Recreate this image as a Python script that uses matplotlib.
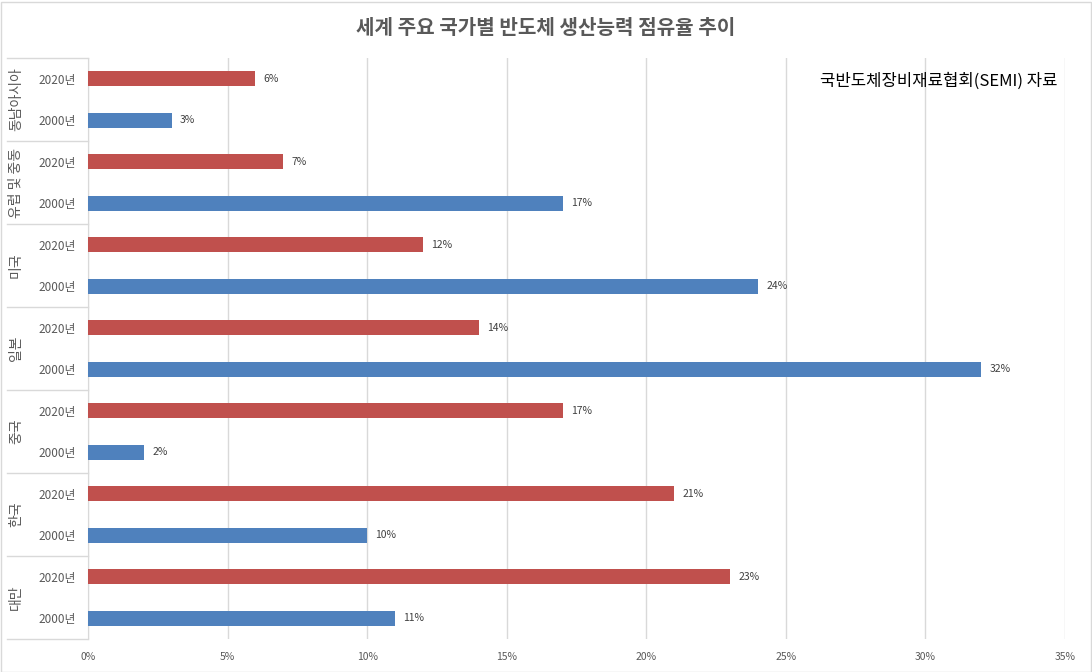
import matplotlib.pyplot as plt
import matplotlib.transforms as mtransforms
from matplotlib.patches import Rectangle

plt.rcParams['font.family'] = ['Noto Sans CJK KR', 'DejaVu Sans']

# 아래에서 위 순서
countries = ['대만', '한국', '중국', '일본', '미국', '유럽 및 중동', '동남아시아']
share_2000 = [11, 10, 2, 32, 24, 17, 3]
share_2020 = [23, 21, 17, 14, 12, 7, 6]
years = ['2000년', '2020년']
x_ticks = [0, 5, 10, 15, 20, 25, 30, 35]

blue = '#4F81BD'
red = '#C0504D'
gray_txt = '#595959'
grid_col = '#D9D9D9'

fig = plt.figure(figsize=(10.92, 6.72), dpi=100)
W, H = 1092, 672
ax = fig.add_axes([88 / W, (H - 639) / H, (1065 - 88) / W, (639 - 58) / H])

y2000 = [2 * i for i in range(len(countries))]
y2020 = [2 * i + 1 for i in range(len(countries))]
ax.barh(y2000, share_2000, height=0.36, color=blue, zorder=3)
ax.barh(y2020, share_2020, height=0.36, color=red, zorder=3)

for y, v in zip(y2000, share_2000):
    ax.text(v + 0.3, y, f'{v}%', va='center', ha='left', fontsize=7.5, color='#404040')
for y, v in zip(y2020, share_2020):
    ax.text(v + 0.3, y, f'{v}%', va='center', ha='left', fontsize=7.5, color='#404040')

ax.set_xlim(0, 35)
ax.set_ylim(-0.5, 2 * len(countries) - 0.5)
ax.set_xticks(x_ticks)
ax.set_xticklabels([f'{t}%' for t in x_ticks], fontsize=7.5, color=gray_txt)
ytk = sorted(y2000 + y2020)
ax.set_yticks(ytk)
ax.set_yticklabels([years[t % 2] for t in ytk], fontsize=8.5, color=gray_txt)
ax.tick_params(axis='both', length=0)
ax.tick_params(axis='y', pad=9)
ax.tick_params(axis='x', pad=9)
ax.grid(axis='x', color=grid_col, linewidth=1, zorder=0)
for s in ['top', 'right', 'bottom']:
    ax.spines[s].set_visible(False)
ax.spines['left'].set_color(grid_col)

# 국가 구분선과 라벨
tr = mtransforms.blended_transform_factory(ax.transAxes, ax.transData)
x0 = (7 - 88) / (1065 - 88)
for k in range(len(countries) + 1):
    yb = 2 * k - 0.5
    ax.plot([x0, 0], [yb, yb], transform=tr, color=grid_col, lw=1, clip_on=False)
for k, c in enumerate(countries):
    ax.text((16 - 88) / (1065 - 88), 2 * k + 0.5, c, transform=tr, rotation=90,
            ha='center', va='center', fontsize=10, color=gray_txt)

ax.text(1057 / W, (H - 81) / H, '국반도체장비재료협회(SEMI) 자료', transform=fig.transFigure,
        ha='right', va='center', fontsize=12, color='black')

fig.text(0.5, (H - 28) / H, '세계 주요 국가별 반도체 생산능력 점유율 추이', ha='center', va='center',
         fontsize=14.5, fontweight='bold', color=gray_txt)

fig.patches.append(Rectangle((0.5 / W, 0.5 / H), 1 - 2 / W, 1 - 2 / H, transform=fig.transFigure,
                             fill=False, edgecolor=grid_col, linewidth=1))

fig.savefig('out.png', dpi=100)
